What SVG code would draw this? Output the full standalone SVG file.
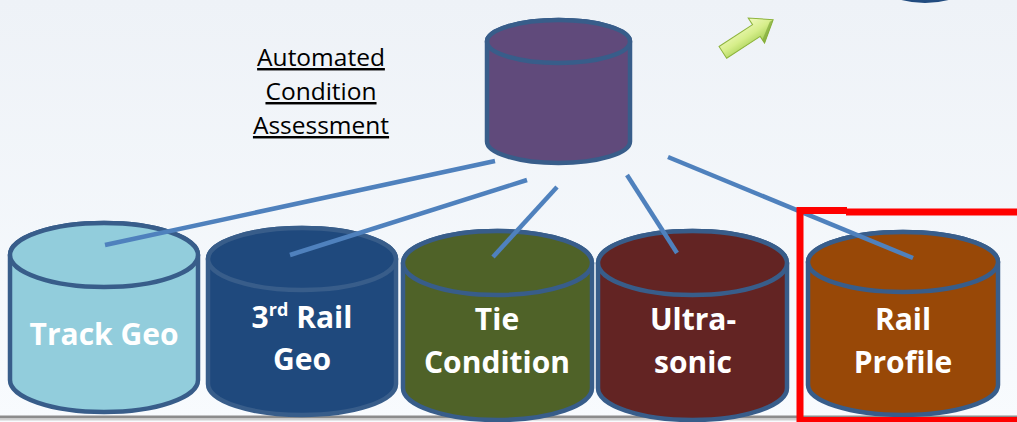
<svg xmlns="http://www.w3.org/2000/svg" width="1017" height="422" viewBox="0 0 1017 422">
<defs>
<linearGradient id="bg" x1="0" y1="0" x2="0" y2="1">
<stop offset="0" stop-color="#EEF2F7"/>
<stop offset="1" stop-color="#F8FBFE"/>
</linearGradient>
<radialGradient id="topblue" cx="0.5" cy="0.5" r="0.5">
<stop offset="0" stop-color="#4F7FB8"/>
<stop offset="1" stop-color="#1F497D"/>
</radialGradient>
<linearGradient id="arrowg" x1="0" y1="0" x2="0" y2="1">
<stop offset="0" stop-color="#F2FAC0"/>
<stop offset="0.5" stop-color="#D6EE8A"/>
<stop offset="1" stop-color="#9CC84A"/>
</linearGradient>
<style>
.cyl{stroke:#385D8A;stroke-width:4.5}
.lbl{font-family:"Open Sans","Liberation Sans",sans-serif;font-weight:bold;font-size:30px;fill:#FFFFFF;text-anchor:middle}
.title{font-family:"Open Sans","Liberation Sans",sans-serif;font-size:24.5px;fill:#000000;text-anchor:middle;text-decoration:underline}
.conn{stroke:#4F81BD;stroke-width:4.5;fill:none}
</style>
</defs>
<rect width="1017" height="422" fill="url(#bg)"/>

<g id="top-right-shape">
<ellipse cx="925" cy="-38" rx="63" ry="41" fill="url(#topblue)"/>
</g>
<g id="green-arrow" transform="translate(748,36) rotate(-33)">
<polygon points="-30,-7 10,-7 10,-15 30,0 10,15 10,7 -30,7" fill="url(#arrowg)" stroke="#8DB43C" stroke-width="1"/>
<polygon points="30,0 10,15 10,11 26,0" fill="#7FA83A" opacity="0.7"/>
</g>

<g id="bottom-rule">
<rect x="0" y="415.5" width="1017" height="3" fill="#8C8C8C"/>
<rect x="0" y="418.5" width="1017" height="2" fill="#D0D0D0"/>
</g>

<g id="label-automated">
<text class="title" x="321" y="66">Automated</text>
<text class="title" x="321" y="100">Condition</text>
<text class="title" x="321" y="134">Assessment</text>
</g>

<g id="node-automated">
<path class="cyl" fill="#604A7B" d="M487,41.5 L487,141.5 A71.5,21.5 0 0 0 630,141.5 L630,41.5 A71.5,21.5 0 0 0 487,41.5 Z"/>
<ellipse class="cyl" fill="#604A7B" cx="558.5" cy="41.5" rx="71.5" ry="21.5"/>
</g>

<g id="node-track-geo">
<path class="cyl" fill="#92CDDC" d="M10,255 L10,380 A94,32 0 0 0 198,380 L198,255 A94,32 0 0 0 10,255 Z"/>
<ellipse class="cyl" fill="#92CDDC" cx="104" cy="255" rx="94" ry="32"/>
<text class="lbl" x="104" y="345">Track Geo</text>
</g>

<g id="node-3rd-rail">
<path class="cyl" fill="#1F497D" d="M208,259 L208,384 A94,31 0 0 0 396,384 L396,259 A94,31 0 0 0 208,259 Z"/>
<ellipse class="cyl" fill="#1F497D" cx="302" cy="259" rx="94" ry="31"/>
<text class="lbl" x="302" y="328">3<tspan font-size="18" dy="-12">rd</tspan><tspan dy="12"> Rail</tspan></text>
<text class="lbl" x="302" y="370">Geo</text>
</g>

<g id="node-tie">
<path class="cyl" fill="#4F6228" d="M403,263 L403,388 A94.5,32 0 0 0 592,388 L592,263 A94.5,32 0 0 0 403,263 Z"/>
<ellipse class="cyl" fill="#4F6228" cx="497.5" cy="263" rx="94.5" ry="32"/>
<text class="lbl" x="497" y="330">Tie</text>
<text class="lbl" x="497" y="373">Condition</text>
</g>

<g id="node-ultrasonic">
<path class="cyl" fill="#632423" d="M598,263 L598,388 A94.5,32 0 0 0 787,388 L787,263 A94.5,32 0 0 0 598,263 Z"/>
<ellipse class="cyl" fill="#632423" cx="692.5" cy="263" rx="94.5" ry="32"/>
<text class="lbl" x="693" y="330">Ultra-</text>
<text class="lbl" x="693" y="373">sonic</text>
</g>

<g id="node-rail-profile">
<path class="cyl" fill="#984807" d="M808,262 L808,385 A95,30 0 0 0 998,385 L998,262 A95,30 0 0 0 808,262 Z"/>
<ellipse class="cyl" fill="#984807" cx="903" cy="262" rx="95" ry="30"/>
<text class="lbl" x="903" y="330">Rail</text>
<text class="lbl" x="903" y="373">Profile</text>
</g>

<g id="connectors">
<line class="conn" x1="495" y1="161" x2="105" y2="245"/>
<line class="conn" x1="527" y1="180" x2="290" y2="255"/>
<line class="conn" x1="557" y1="187" x2="493" y2="257"/>
<line class="conn" x1="627" y1="175" x2="677" y2="253"/>
<line class="conn" x1="668" y1="157" x2="913" y2="258"/>
</g>

<g id="highlight">
<path d="M800,425 L800,210.5 L847,210.5 M846,212 L1020,212 M800,420.5 L1020,420.5" fill="none" stroke="#FF0000" stroke-width="7"/>
</g>
</svg>
